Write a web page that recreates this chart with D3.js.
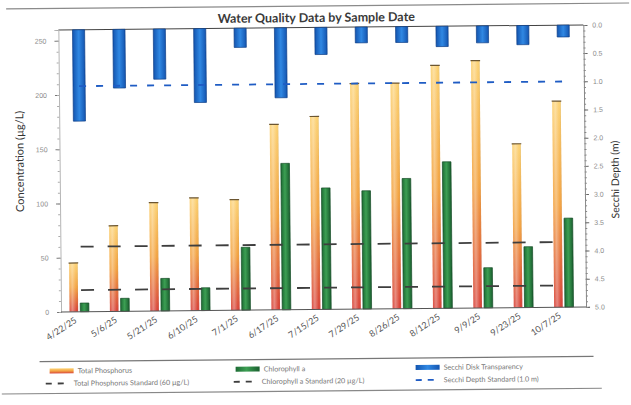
<!DOCTYPE html>
<html>
<head>
<meta charset="utf-8">
<script src="https://cdn.jsdelivr.net/npm/d3@7"></script>
<style>
  html, body { margin: 0; padding: 0; background: #fff; }
  svg { display: block; font-family: Lato, "Open Sans", sans-serif; }
</style>
</head>
<body>
<svg id="chart" width="631" height="405"></svg>
<script>
// Sample dates (category axis)
const sampleDates = ["4/22/25", "5/6/25", "5/21/25", "6/10/25", "7/1/25", "6/17/25", "7/15/25",
                     "7/29/25", "8/26/25", "8/12/25", "9/9/25", "9/23/25", "10/7/25"];
// Total phosphorus, µg/L
const totalPhosphorus = [45, 79, 100, 104, 102, 171, 178, 208, 208, 224, 228, 151, 190];
// Chlorophyll a, µg/L
const chlorophyllA = [8, 12, 30, 21, 58, 135, 112, 109, 120, 135, 37, 56, 82];
// Secchi disk transparency, m
const secchiDepth = [1.62, 1.04, 0.89, 1.31, 0.34, 1.24, 0.48, 0.28, 0.28, 0.36, 0.30, 0.34, 0.21];
// Standards
const tpStandard = 60;
const chlStandard = 20;
const secchiStandard = 1.0;
// Axis ticks
const concTicks = [0, 50, 100, 150, 200, 250];
const depthTicks = [0, 0.5, 1, 1.5, 2, 2.5, 3, 3.5, 4, 4.5, 5];

const svg = d3.select("#chart");
const defs = svg.append("defs");

// bar fills
const tpGrad = defs.append("linearGradient").attr("id", "tpFill")
  .attr("x1", 0).attr("y1", 0).attr("x2", 0).attr("y2", 1);
[[0, "#fcd274"], [0.5, "#f3a443"], [1, "#d8433a"]].forEach(([o, c]) =>
  tpGrad.append("stop").attr("offset", o).attr("stop-color", c));

const tpShine = defs.append("linearGradient").attr("id", "tpShine")
  .attr("x1", 0).attr("y1", 0).attr("x2", 1).attr("y2", 0);
[[0, "#ffffff", 0.05], [0.35, "#ffffff", 0.35], [0.8, "#ffffff", 0], [1, "#000000", 0.08]].forEach(([o, c, a]) =>
  tpShine.append("stop").attr("offset", o).attr("stop-color", c).attr("stop-opacity", a));

const chlGrad = defs.append("linearGradient").attr("id", "chlFill")
  .attr("x1", 0).attr("y1", 0).attr("x2", 1).attr("y2", 0);
[[0, "#1d6b34"], [0.45, "#3c9f53"], [1, "#1a5f2f"]].forEach(([o, c]) =>
  chlGrad.append("stop").attr("offset", o).attr("stop-color", c));

const secGrad = defs.append("linearGradient").attr("id", "secFill")
  .attr("x1", 0).attr("y1", 0).attr("x2", 1).attr("y2", 0);
[[0, "#1355b0"], [0.5, "#3088e3"], [1, "#1455b0"]].forEach(([o, c]) =>
  secGrad.append("stop").attr("offset", o).attr("stop-color", c));

// the whole sheet sits a touch off-square
const g = svg.append("g").attr("transform", "rotate(-0.55 315 200)");

// outer frame rule
g.append("line").attr("x1", 8).attr("x2", 631).attr("y1", 6).attr("y2", 6)
  .attr("stroke", "#8a8a8a").attr("stroke-width", 1.2);

const plot = { left: 60, right: 585, top: 27.5, bottom: 309.5 };

const x = d3.scaleBand().domain(sampleDates).range([plot.left, plot.right]).padding(0);
const xInner = d3.scaleBand().domain(["tp", "chl"])
  .range([x.bandwidth() * 0.21, x.bandwidth() * 0.69]).paddingInner(0.2);
const yConc = d3.scaleLinear().domain([0, 260]).range([plot.bottom, plot.top]);
const yDepth = d3.scaleLinear().domain([0, 5]).range([plot.top, plot.bottom]);
const cx = d => x(d) + x.bandwidth() / 2;

// title
g.append("text").attr("x", 318).attr("y", 22).attr("text-anchor", "middle")
  .attr("font-size", 12.5).attr("font-weight", "bold").attr("fill", "#3a3a3a")
  .text("Water Quality Data by Sample Date");

// plot top border
g.append("line").attr("x1", plot.left).attr("x2", plot.right)
  .attr("y1", plot.top).attr("y2", plot.top).attr("stroke", "#444").attr("stroke-width", 1);

// left axis
const leftAxis = d3.axisLeft(yConc).tickValues(concTicks).tickSize(4).tickPadding(8);
const gl = g.append("g").attr("transform", `translate(${plot.left},0)`).call(leftAxis);
gl.select(".domain").attr("stroke", "#b5b5b5");
gl.selectAll(".tick line").attr("stroke", "#777");
gl.selectAll(".tick text").attr("font-size", 7).attr("fill", "#8a8a8a");
g.append("g").attr("transform", `translate(${plot.left},0)`)
  .call(d3.axisLeft(yConc).tickValues(d3.range(0, 261, 10)).tickSize(2).tickFormat(""))
  .call(s => { s.select(".domain").remove(); s.selectAll("line").attr("stroke", "#aaa"); });

// right axis
const rightAxis = d3.axisRight(yDepth).tickValues(depthTicks).tickSize(4).tickPadding(5)
  .tickFormat(d3.format(".1f"));
const gr = g.append("g").attr("transform", `translate(${plot.right},0)`).call(rightAxis);
gr.select(".domain").attr("stroke", "#888");
gr.selectAll(".tick line").attr("stroke", "#666");
gr.selectAll(".tick text").attr("font-size", 7).attr("fill", "#8a8a8a");
g.append("g").attr("transform", `translate(${plot.right},0)`)
  .call(d3.axisRight(yDepth).tickValues(d3.range(0, 51).map(i => i / 10)).tickSize(2).tickFormat(""))
  .call(s => { s.select(".domain").remove(); s.selectAll("line").attr("stroke", "#888"); });

// axis titles
g.append("text").attr("transform", `translate(24,${(plot.top + plot.bottom) / 2 - 10}) rotate(-90)`)
  .attr("text-anchor", "middle").attr("font-size", 11).attr("fill", "#333")
  .text("Concentration (µg/L)");
g.append("text").attr("transform", `translate(619,${(plot.top + plot.bottom) / 2 + 14}) rotate(-90)`)
  .attr("text-anchor", "middle").attr("font-size", 10.5).attr("fill", "#333")
  .text("Secchi Depth (m)");

// total phosphorus bars
const tpBars = g.append("g").selectAll("g").data(sampleDates).join("g");
tpBars.append("rect")
  .attr("x", d => x(d) + xInner("tp")).attr("width", xInner.bandwidth())
  .attr("y", (d, i) => yConc(totalPhosphorus[i]))
  .attr("height", (d, i) => yConc(0) - yConc(totalPhosphorus[i]))
  .attr("fill", "url(#tpFill)");
tpBars.append("rect")
  .attr("x", d => x(d) + xInner("tp")).attr("width", xInner.bandwidth())
  .attr("y", (d, i) => yConc(totalPhosphorus[i]))
  .attr("height", (d, i) => yConc(0) - yConc(totalPhosphorus[i]))
  .attr("fill", "url(#tpShine)");
tpBars.append("line")
  .attr("x1", d => x(d) + xInner("tp") - 0.5).attr("x2", d => x(d) + xInner("tp") + xInner.bandwidth() + 0.5)
  .attr("y1", (d, i) => yConc(totalPhosphorus[i])).attr("y2", (d, i) => yConc(totalPhosphorus[i]))
  .attr("stroke", "#6b5530").attr("stroke-width", 1.2);

// chlorophyll a bars
g.append("g").selectAll("rect").data(sampleDates).join("rect")
  .attr("x", d => x(d) + xInner("chl")).attr("width", xInner.bandwidth())
  .attr("y", (d, i) => yConc(chlorophyllA[i]))
  .attr("height", (d, i) => yConc(0) - yConc(chlorophyllA[i]))
  .attr("fill", "url(#chlFill)").attr("stroke", "#164d26").attr("stroke-width", 0.7);

// baseline
g.append("line").attr("x1", plot.left).attr("x2", plot.right)
  .attr("y1", plot.bottom).attr("y2", plot.bottom).attr("stroke", "#555").attr("stroke-width", 1);

// secchi bars hang from the top (depth axis reversed)
const secW = x.bandwidth() * 0.3;
g.append("g").selectAll("rect").data(sampleDates).join("rect")
  .attr("x", d => cx(d) - secW / 2).attr("width", secW)
  .attr("y", yDepth(0))
  .attr("height", (d, i) => yDepth(secchiDepth[i]) - yDepth(0))
  .attr("fill", "url(#secFill)").attr("stroke", "#0e3f88").attr("stroke-width", 0.7);

// standard lines
const first = sampleDates[0], last = sampleDates[sampleDates.length - 1];
function standardLine(yv, color, dash, width) {
  g.append("line").attr("x1", cx(first)).attr("x2", cx(last))
    .attr("y1", yv).attr("y2", yv)
    .attr("stroke", color).attr("stroke-width", width).attr("stroke-dasharray", dash);
}
standardLine(yConc(tpStandard), "#3e3e3e", "13,14", 1.8);
standardLine(yConc(chlStandard), "#3e3e3e", "13,14", 1.8);
standardLine(yDepth(secchiStandard), "#1f5cc4", "7,10", 1.8);

// category labels
g.append("g").selectAll("text").data(sampleDates).join("text")
  .attr("transform", d => `translate(${cx(d) - 4},${plot.bottom + 10}) rotate(-33)`)
  .attr("text-anchor", "end").attr("font-size", 9).attr("fill", "#555")
  .text(d => d);

// legend
g.append("line").attr("x1", 38).attr("x2", 592).attr("y1", 359).attr("y2", 359)
  .attr("stroke", "#777").attr("stroke-width", 1.2);
g.append("line").attr("x1", 0).attr("x2", 600).attr("y1", 391).attr("y2", 391)
  .attr("stroke", "#888").attr("stroke-width", 1.2);

const legendRows = [
  [
    { x: 48, type: "bar", fill: "url(#tpFill)", label: "Total Phosphorus" },
    { x: 234, type: "bar", fill: "url(#chlFill)", label: "Chlorophyll a" },
    { x: 414, type: "bar", fill: "url(#secFill)", label: "Secchi Disk Transparency" }
  ],
  [
    { x: 44, type: "dash", stroke: "#3e3e3e", label: "Total Phosphorus Standard (60 µg/L)" },
    { x: 232, type: "dash", stroke: "#3e3e3e", label: "Chlorophyll a Standard (20 µg/L)" },
    { x: 414, type: "dash", stroke: "#1f5cc4", label: "Secchi Depth Standard (1.0 m)" }
  ]
];
const rowY = [368.5, 381];
legendRows.forEach((row, r) => {
  row.forEach(item => {
    if (item.type === "bar") {
      g.append("rect").attr("x", item.x).attr("y", rowY[r] - 2.5).attr("width", 24).attr("height", 5)
        .attr("fill", item.fill);
    } else {
      g.append("line").attr("x1", item.x).attr("x2", item.x + 24).attr("y1", rowY[r]).attr("y2", rowY[r])
        .attr("stroke", item.stroke).attr("stroke-width", 1.8).attr("stroke-dasharray", "6,6");
    }
    g.append("text").attr("x", item.x + 28).attr("y", rowY[r] + 2.5)
      .attr("font-size", 7.2).attr("fill", "#777").text(item.label);
  });
});
</script>
</body>
</html>
